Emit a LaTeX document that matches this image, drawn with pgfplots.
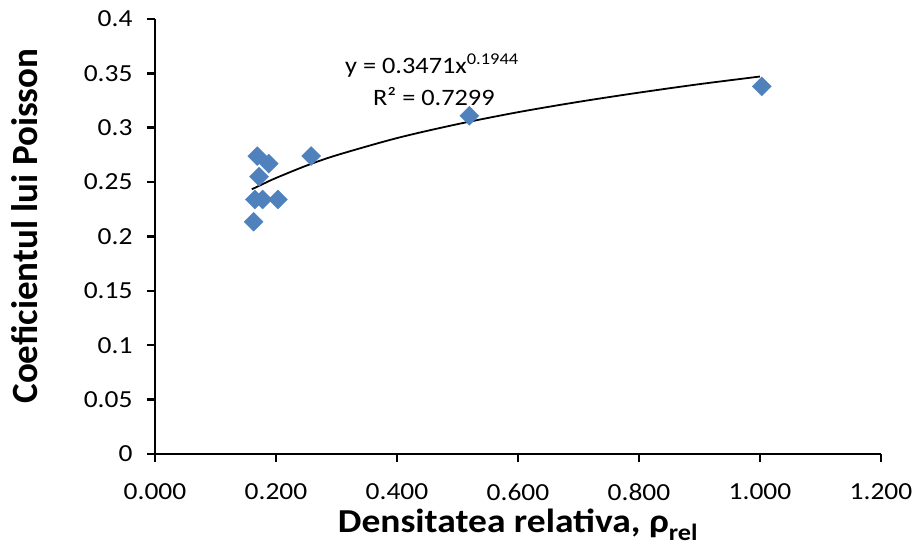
\documentclass[border=0pt]{standalone}
\usepackage{pgfplots}
\pgfplotsset{compat=1.18}
\usepackage{fontspec}
\setmainfont{Carlito}[FakeStretch=1.12]
\newfontfamily\yfont{Carlito}
\definecolor{ptblue}{HTML}{4F81BD}
\begin{document}
\begin{tikzpicture}
\begin{axis}[
    scale only axis,
    width=726pt, height=435pt,
    xmin=0, xmax=1.2, ymin=0, ymax=0.4,
    axis lines=left,
    axis line style={line width=2.8pt, -},
    xtick={0,0.2,...,1.2},
    ytick={0,0.05,...,0.4},
    tick style={line width=2.5pt, black},
    major tick length=8pt,
    xtick pos=bottom, ytick pos=left,
    tick align=outside,
    /pgf/number format/assume math mode=true,
    xticklabel style={/pgf/number format/.cd, fixed, fixed zerofill, precision=3, /tikz/.cd, yshift=-18pt},
    yticklabel style={/pgf/number format/.cd, fixed, precision=2, /tikz/.cd, xshift=-11pt},
    ticklabel style={font=\fontsize{24.5}{29}\selectfont},
    xlabel={Densitatea relativa, ρ\textsubscript{rel}},
    ylabel={Coeficientul lui Poisson},
    xlabel style={font=\fontsize{33.5}{38}\selectfont\bfseries,
        at={([yshift=-79pt]rel axis cs:0.5,0)}, anchor=base},
    ylabel style={font=\fontsize{37}{42}\yfont\bfseries,
        at={([xshift=-130pt]rel axis cs:0,0.524)}, anchor=center},
    clip=false,
]
% trend line (power fit)
\addplot[black, line width=1.8pt, smooth] coordinates {
    (0.160,0.2434) (0.180,0.2487) (0.200,0.2538) (0.250,0.2651) (0.300,0.2747)
    (0.400,0.2905) (0.500,0.3033) (0.600,0.3143) (0.700,0.3238) (0.800,0.3323)
    (0.900,0.3401) (1.000,0.3471)};
% measured points
\addplot[only marks, mark=square*, mark size=6.7pt, mark options={rotate=45, fill=ptblue, draw=ptblue}] coordinates {
    (0.169,0.274) (0.188,0.267) (0.258,0.274) (0.172,0.255)
    (0.165,0.234) (0.178,0.234) (0.203,0.234) (0.163,0.2136)
    (0.5195,0.311) (1.003,0.338)};
\node[anchor=base west, inner sep=0pt, font=\fontsize{23.5}{28}\selectfont] at (axis cs:0.314,0.3503) {y = 0.3471x\textsuperscript{0.1944}};
\node[anchor=base west, inner sep=0pt, font=\fontsize{23.5}{28}\selectfont] at (axis cs:0.3603,0.3209) {R² = 0.7299};
\coordinate (o) at (rel axis cs:0,0);
\end{axis}
\pgfresetboundingbox
\path[use as bounding box] ([shift={(-155pt,-97pt)}]o) rectangle ++(914pt,551pt);
\end{tikzpicture}
\end{document}
